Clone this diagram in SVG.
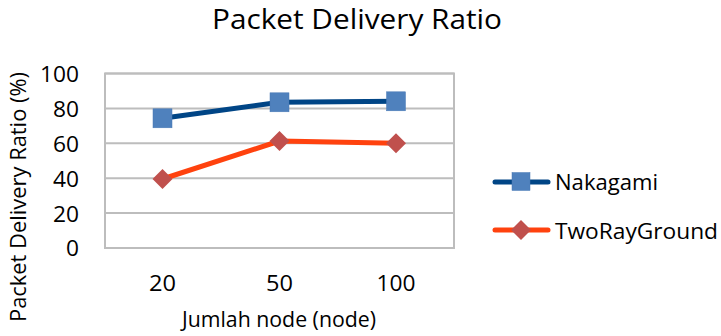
<svg xmlns="http://www.w3.org/2000/svg" width="721" height="336" viewBox="0 0 721 336">
  <style>
    text { font-family: "Open Sans", "Liberation Sans", sans-serif; fill: #000; }
    .title { font-size: 27.5px; }
    .tick { font-size: 21px; }
    .axis { font-size: 21px; }
    .legend { font-size: 22px; }
    .grid { stroke: #bdbdbd; stroke-width: 2; fill: none; }
    .s-naka { stroke: #004586; stroke-width: 5; fill: none; stroke-linejoin: round; }
    .s-two { stroke: #ff420e; stroke-width: 5; fill: none; stroke-linejoin: round; }
    .m-naka { fill: #4f81bd; stroke: #4a7ab5; stroke-width: 0.5; }
    .m-two { fill: #c0504d; }
  </style>
  <defs>
    <rect id="sq" x="-9.5" y="-9.5" width="19" height="19" class="m-naka"/>
    <rect id="sq-small" x="-9" y="-9" width="18" height="18" class="m-naka"/>
    <polygon id="dm" points="0,-10 10,0 0,10 -10,0" class="m-two"/>
  </defs>

  <rect width="721" height="336" fill="#ffffff"/>

  <text class="title" x="357" y="29" text-anchor="middle" textLength="290" lengthAdjust="spacingAndGlyphs">Packet Delivery Ratio</text>

  <!-- plot area and gridlines (0..100 step 20) -->
  <g id="plot-area">
    <line class="grid" x1="105" y1="73.5" x2="454" y2="73.5"/>
    <line class="grid" x1="105" y1="108.4" x2="454" y2="108.4"/>
    <line class="grid" x1="105" y1="143.3" x2="454" y2="143.3"/>
    <line class="grid" x1="105" y1="178.2" x2="454" y2="178.2"/>
    <line class="grid" x1="105" y1="213.1" x2="454" y2="213.1"/>
    <rect class="grid" x="105" y="73.5" width="349" height="174.5"/>
  </g>

  <!-- y axis ticks -->
  <g id="y-ticks" text-anchor="end">
    <text class="tick" x="79" y="82" textLength="39" lengthAdjust="spacingAndGlyphs">100</text>
    <text class="tick" x="79" y="117" textLength="26" lengthAdjust="spacingAndGlyphs">80</text>
    <text class="tick" x="79" y="152" textLength="26" lengthAdjust="spacingAndGlyphs">60</text>
    <text class="tick" x="79" y="187" textLength="26" lengthAdjust="spacingAndGlyphs">40</text>
    <text class="tick" x="79" y="222" textLength="26" lengthAdjust="spacingAndGlyphs">20</text>
    <text class="tick" x="79" y="256" textLength="13" lengthAdjust="spacingAndGlyphs">0</text>
  </g>

  <!-- x axis categories -->
  <g id="x-ticks" text-anchor="middle">
    <text class="tick" x="162.5" y="290.5" textLength="27" lengthAdjust="spacingAndGlyphs">20</text>
    <text class="tick" x="279.5" y="290.5" textLength="27" lengthAdjust="spacingAndGlyphs">50</text>
    <text class="tick" x="396" y="290.5" textLength="39" lengthAdjust="spacingAndGlyphs">100</text>
  </g>

  <text class="axis" x="279" y="327" text-anchor="middle" textLength="194" lengthAdjust="spacingAndGlyphs">Jumlah node (node)</text>
  <text class="axis" transform="translate(25.5,197) rotate(-90)" x="0" y="0" text-anchor="middle" textLength="250" lengthAdjust="spacingAndGlyphs">Packet Delivery Ratio (%)</text>

  <!-- data series -->
  <g id="connectors">
    <polyline class="s-naka" points="162.5,118.3 279.5,102.3 396,101.3"/>
    <polyline class="s-two" points="162.5,179 279.5,141 396,143.3"/>
  </g>

  <g id="series-nakagami">
    <use href="#sq" x="162.5" y="118.3"/>
    <use href="#sq" x="279.5" y="102.3"/>
    <use href="#sq" x="396" y="101.3"/>
  </g>
  <g id="series-tworayground">
    <use href="#dm" x="162.5" y="179"/>
    <use href="#dm" x="279.5" y="141"/>
    <use href="#dm" x="396" y="143.3"/>
  </g>

  <!-- legend -->
  <g id="legend-nakagami">
    <line x1="495" y1="182" x2="548" y2="182" stroke="#004586" stroke-width="5" stroke-linecap="round"/>
    <use href="#sq-small" x="521" y="181.5"/>
    <text class="legend" x="555" y="190" textLength="103" lengthAdjust="spacingAndGlyphs">Nakagami</text>
  </g>
  <g id="legend-tworayground">
    <line x1="495" y1="230" x2="548" y2="230" stroke="#ff420e" stroke-width="5" stroke-linecap="round"/>
    <use href="#dm" x="521" y="230"/>
    <text class="legend" x="555" y="238.5" textLength="163" lengthAdjust="spacingAndGlyphs">TwoRayGround</text>
  </g>
</svg>
